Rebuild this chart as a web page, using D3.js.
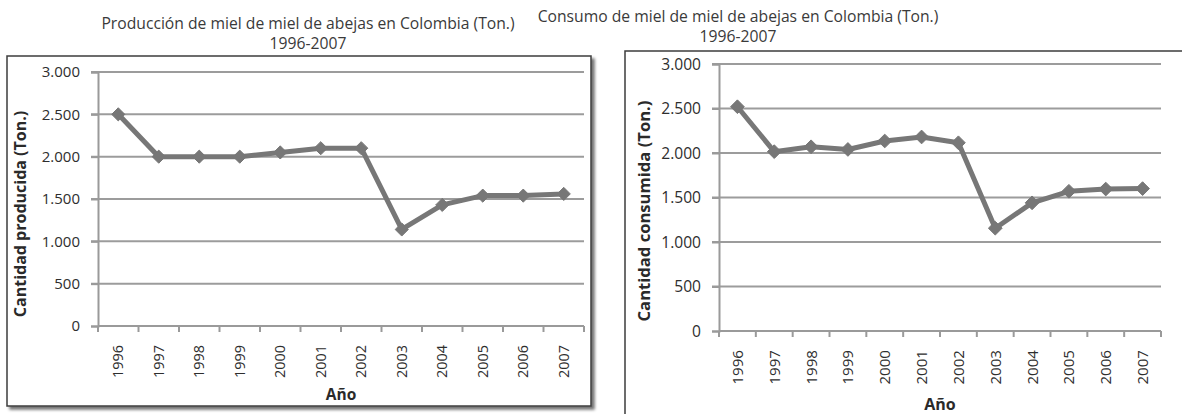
<!DOCTYPE html>
<html>
<head>
<meta charset="utf-8">
<script src="https://cdn.jsdelivr.net/npm/d3@7"></script>
<style>
  html, body { margin: 0; padding: 0; background: #ffffff; }
  svg { display: block; }
  text { font-family: "Open Sans", "Liberation Sans", sans-serif; }
</style>
</head>
<body>
<svg id="chart" width="1182" height="414"></svg>
<script>
// Years shown on both charts
const years = ["1996","1997","1998","1999","2000","2001","2002","2003","2004","2005","2006","2007"];

// Honey production in Colombia (tons)
const produccion = [2500, 2000, 2000, 2000, 2050, 2100, 2100, 1140, 1430, 1540, 1540, 1560];

// Honey consumption in Colombia (tons)
const consumo = [2520, 2015, 2070, 2040, 2135, 2180, 2115, 1155, 1440, 1570, 1595, 1600];

// Value axis ticks
const yTicks = [0, 500, 1000, 1500, 2000, 2500, 3000];

// Titles and axis labels
const tituloProduccion = ["Producción de miel de miel de abejas en Colombia (Ton.)", "1996-2007"];
const tituloConsumo = ["Consumo de miel de miel de abejas en Colombia (Ton.)", "1996-2007"];
const ejeYProduccion = "Cantidad producida (Ton.)";
const ejeYConsumo = "Cantidad consumida (Ton.)";
const ejeX = "Año";

const esFormat = d3.formatLocale({ decimal: ",", thousands: ".", grouping: [3], currency: ["$", ""] }).format(",");

const svg = d3.select("#chart");

const defs = svg.append("defs");
const shadow = defs.append("filter").attr("id", "shadow")
  .attr("x", "-5%").attr("y", "-5%").attr("width", "115%").attr("height", "115%");
shadow.append("feGaussianBlur").attr("in", "SourceAlpha").attr("stdDeviation", 1.6).attr("result", "b");
shadow.append("feOffset").attr("in", "b").attr("dx", 3).attr("dy", 3).attr("result", "o");
shadow.append("feComponentTransfer").attr("in", "o").attr("result", "s")
  .append("feFuncA").attr("type", "linear").attr("slope", 0.55);
const merge = shadow.append("feMerge");
merge.append("feMergeNode").attr("in", "s");
merge.append("feMergeNode").attr("in", "SourceGraphic");

function drawChart(cfg) {
  const g = svg.append("g");
  const fs = cfg.fontSize;

  // chart frame
  const frame = g.append("rect")
    .attr("x", cfg.frame.x).attr("y", cfg.frame.y)
    .attr("width", cfg.frame.w).attr("height", cfg.frame.h)
    .attr("fill", "#ffffff").attr("stroke", "#3c3c3c").attr("stroke-width", 1.5);
  if (cfg.frame.shadow) frame.attr("filter", "url(#shadow)");

  const x = d3.scaleBand().domain(years).range([cfg.plot.x0, cfg.plot.x1]).padding(0);
  const y = d3.scaleLinear().domain([0, 3000]).range([cfg.plot.yBottom, cfg.plot.yTop]);

  // horizontal gridlines (extend left as the value-axis tick marks)
  g.append("g").selectAll("line").data(yTicks.filter(d => d > 0)).join("line")
    .attr("x1", cfg.plot.x0 - 7).attr("x2", cfg.plot.x1)
    .attr("y1", d => y(d)).attr("y2", d => y(d))
    .attr("stroke", "#9c9c9c").attr("stroke-width", 2);

  // value axis
  const yAxis = g.append("g")
    .attr("transform", `translate(${cfg.plot.x0},0)`)
    .call(d3.axisLeft(y).tickValues(yTicks).tickSize(7).tickPadding(11).tickFormat(esFormat));
  yAxis.select(".domain").attr("stroke", "#9a9a9a").attr("stroke-width", 2);
  yAxis.selectAll(".tick line").attr("stroke", "#9a9a9a").attr("stroke-width", 2);
  yAxis.selectAll(".tick text")
    .attr("fill", "#2e2e2e").attr("font-size", cfg.tickSize).attr("font-family", "Open Sans");

  // category axis line and boundary ticks
  const edges = years.map(d => x(d)).concat([cfg.plot.x1]);
  g.append("line")
    .attr("x1", cfg.plot.x0).attr("x2", cfg.plot.x1)
    .attr("y1", y(0)).attr("y2", y(0))
    .attr("stroke", "#9a9a9a").attr("stroke-width", 2);
  g.append("g").selectAll("line").data(edges).join("line")
    .attr("x1", d => d).attr("x2", d => d)
    .attr("y1", y(0)).attr("y2", y(0) + 6)
    .attr("stroke", "#9a9a9a").attr("stroke-width", 2);

  // rotated year labels
  g.append("g").selectAll("text").data(years).join("text")
    .attr("transform", d => `translate(${x(d) + x.bandwidth() / 2 + fs * 0.36},${cfg.yearTop}) rotate(-90)`)
    .attr("text-anchor", "end")
    .attr("fill", "#2e2e2e").attr("font-size", fs)
    .text(d => d);

  // titles
  g.append("g").selectAll("text").data(cfg.title).join("text")
    .attr("x", cfg.titleX)
    .attr("y", (d, i) => cfg.titleY[i])
    .attr("text-anchor", "middle").attr("dominant-baseline", "central")
    .attr("fill", "#3a3a3a").attr("font-size", cfg.titleSize)
    .text(d => d);

  // axis titles
  g.append("text")
    .attr("transform", `translate(${cfg.yTitleX},${cfg.yTitleY}) rotate(-90)`)
    .attr("text-anchor", "middle").attr("dominant-baseline", "central")
    .attr("font-weight", "bold").attr("fill", "#2a2a2a").attr("font-size", cfg.yTitleSize)
    .text(cfg.yLabel);
  g.append("text")
    .attr("x", (cfg.plot.x0 + cfg.plot.x1) / 2).attr("y", cfg.xTitleY)
    .attr("text-anchor", "middle").attr("dominant-baseline", "central")
    .attr("font-weight", "bold").attr("fill", "#2a2a2a").attr("font-size", cfg.xTitleSize)
    .text(ejeX);

  // series line
  const cx = (d, i) => x(years[i]) + x.bandwidth() / 2;
  const line = d3.line().x(cx).y(d => y(d));
  g.append("path").datum(cfg.values)
    .attr("d", line)
    .attr("fill", "none").attr("stroke", "#777777").attr("stroke-width", 5)
    .attr("stroke-linejoin", "round");

  // diamond markers
  const diamond = d3.symbol().type(d3.symbolDiamond2).size(cfg.markerSize);
  g.append("g").selectAll("path").data(cfg.values).join("path")
    .attr("transform", (d, i) => `translate(${cx(d, i)},${y(d)})`)
    .attr("d", diamond)
    .attr("fill", "#777777").attr("stroke", "#777777").attr("stroke-width", 1);
}

drawChart({
  frame: { x: 7, y: 56, w: 584, h: 350, shadow: true },
  plot: { x0: 98, x1: 584, yTop: 72, yBottom: 326 },
  values: produccion,
  title: tituloProduccion,
  titleX: 308, titleY: [23, 43], titleSize: 15.7,
  yLabel: ejeYProduccion, yTitleX: 20, yTitleY: 214, yTitleSize: 16,
  xTitleY: 394, xTitleSize: 15.5, yearTop: 345,
  fontSize: 14.4, tickSize: 15, markerSize: 110
});

drawChart({
  frame: { x: 625, y: 51, w: 600, h: 400, shadow: false },
  plot: { x0: 719, x1: 1161, yTop: 64, yBottom: 331 },
  values: consumo,
  title: tituloConsumo,
  titleX: 738, titleY: [16, 36], titleSize: 15.7,
  yLabel: ejeYConsumo, yTitleX: 643, yTitleY: 211, yTitleSize: 16.6,
  xTitleY: 404, xTitleSize: 16, yearTop: 350,
  fontSize: 15.1, tickSize: 15.6, markerSize: 120
});
</script>
</body>
</html>
